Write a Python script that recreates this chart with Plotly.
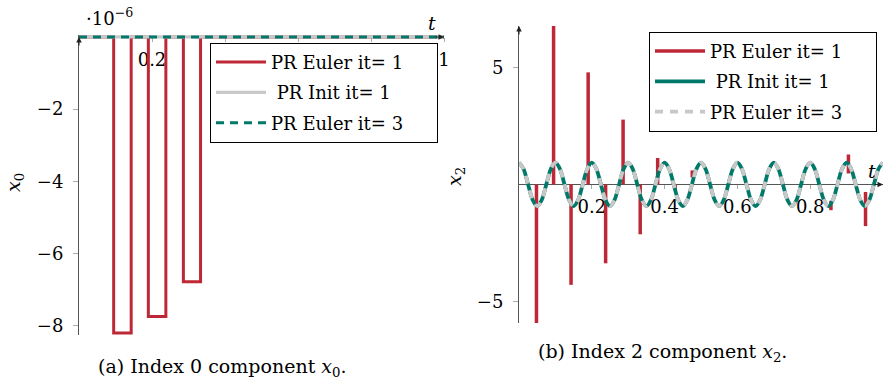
import plotly.graph_objects as go

# ---------------- data ----------------
# left panel: component x0 (units of 1e-6)
t_line = [0.0, 1.0]
x0_init = [0.0, 0.0]          # PR Init it= 1
x0_euler3 = [0.0, 0.0]        # PR Euler it= 3
bar_start = [0.095, 0.190, 0.286]   # PR Euler it= 1 rectangular dips
bar_end = [0.143, 0.238, 0.333]
bar_depth = [-8.2, -7.74, -6.78]

# right panel: component x2
spike_t = [0.048, 0.095, 0.143, 0.190, 0.238, 0.286, 0.333, 0.381, 0.429, 0.476, 0.857, 0.905, 0.952]
spike_lo = [-5.92, 0.0, -4.29, 0.0, -3.37, 0.0, -2.13, 0.0, -0.25, 0.30, -1.10, 0.47, -1.78]
spike_hi = [0.0, 6.77, 0.0, 4.79, 0.0, 2.77, 0.0, 1.13, 0.0, 0.60, -0.70, 1.28, -0.32]
wave_dt = 0.0125
x2_wave = [0.93, 0.66, 0.0, -0.66, -0.93, -0.66, 0.0, 0.66,
           0.93, 0.66, 0.0, -0.66, -0.93, -0.66, 0.0, 0.66,
           0.93, 0.66, 0.0, -0.66, -0.93, -0.66, 0.0, 0.66,
           0.93, 0.66, 0.0, -0.66, -0.93, -0.66, 0.0, 0.66,
           0.93, 0.66, 0.0, -0.66, -0.93, -0.66, 0.0, 0.66,
           0.93, 0.66, 0.0, -0.66, -0.93, -0.66, 0.0, 0.66,
           0.93, 0.66, 0.0, -0.66, -0.93, -0.66, 0.0, 0.66,
           0.93, 0.66, 0.0, -0.66, -0.93, -0.66, 0.0, 0.66,
           0.93, 0.66, 0.0, -0.66, -0.93, -0.66, 0.0, 0.66,
           0.93, 0.66, 0.0, -0.66, -0.93, -0.66, 0.0, 0.66,
           0.93]
t_wave = [i * wave_dt for i in range(len(x2_wave))]

x_tick_vals = [0.2, 0.4, 0.6, 0.8, 1.0]
left_x_tick_text = ["0.2", "", "", "", "1"]      # 0.4-0.8 hidden behind the legend
right_x_tick_text = ["0.2", "0.4", "0.6", "0.8", "1"]
left_y_ticks = [-8, -6, -4, -2]
right_y_ticks = [-5, 5]

# ---------------- style ----------------
RED = "#BE2836"
GREEN = "#00796A"
GRAY = "#C8C8C8"
AXIS = "#555555"
FONT = "DejaVu Serif"
W, H = 883, 383
PAD = "\u00a0" * 5   # legend cell padding (pgfplots legends are wider)

# build paths from data
lx, ly = [t_line[0]], [0.0]
for a, b, d in zip(bar_start, bar_end, bar_depth):
    lx += [a, a, b, b]
    ly += [0.0, d, d, 0.0]
lx.append(t_line[-1]); ly.append(0.0)

sx, sy = [], []
for t, lo, hi in zip(spike_t, spike_lo, spike_hi):
    sx += [t, t, None]
    sy += [lo, hi, None]

fig = go.Figure()
# left
fig.add_trace(go.Scatter(x=lx, y=ly, mode="lines", name="PR Euler it= 1" + PAD, legendgroup="a",
                         line=dict(color=RED, width=3), xaxis="x", yaxis="y", legend="legend"))
fig.add_trace(go.Scatter(x=t_line, y=x0_init, mode="lines", name="\u00a0PR Init it= 1", legendgroup="b",
                         line=dict(color=GRAY, width=3.2), xaxis="x", yaxis="y", legend="legend"))
fig.add_trace(go.Scatter(x=t_line, y=x0_euler3, mode="lines", name="PR Euler it= 3", legendgroup="c",
                         line=dict(color=GREEN, width=3, dash="8px,6px"), xaxis="x", yaxis="y", legend="legend"))
# right
fig.add_trace(go.Scatter(x=sx, y=sy, mode="lines", name="PR Euler it= 1" + PAD, legendgroup="d",
                         line=dict(color=RED, width=3.5), xaxis="x2", yaxis="y2", legend="legend2"))
fig.add_trace(go.Scatter(x=t_wave, y=x2_wave, mode="lines", name="\u00a0PR Init it= 1", line_shape="spline",
                         legendgroup="e",
                         line=dict(color=GREEN, width=3.8), xaxis="x2", yaxis="y2", legend="legend2"))
fig.add_trace(go.Scatter(x=t_wave, y=x2_wave, mode="lines", name="PR Euler it= 3", line_shape="spline",
                         legendgroup="f",
                         line=dict(color=GRAY, width=3.8, dash="8px,7px"), xaxis="x2", yaxis="y2", legend="legend2"))

L_XDOM = [79 / W, 444 / W]
L_YR = [-8.26, 0.06]
L_YDOM = [1 - 335.2 / H, 1 - 34.8 / H]
R_XDOM = [519 / W, 1.0]
R_YR = [-5.92, 6.77]
R_YDOM = [1 - 323 / H, 1 - 26 / H]


def zero_pos(dom, rng):
    return dom[0] + (0 - rng[0]) / (rng[1] - rng[0]) * (dom[1] - dom[0])


tickfont = dict(family=FONT, size=18, color="black")
common_x = dict(showgrid=False, zeroline=False, showline=True, linecolor=AXIS, linewidth=1,
                tickvals=x_tick_vals, ticks="outside", ticklen=4, automargin=False,
                tickcolor="#AAAAAA", tickfont=tickfont, range=[0, 1], anchor="free",
                layer="below traces", fixedrange=True, ticklabelstandoff=2)
common_y = dict(showgrid=False, zeroline=False, showline=True, linecolor=AXIS, linewidth=1,
                ticks="outside", ticklen=5, tickcolor="#AAAAAA", tickfont=tickfont, automargin=False,
                layer="below traces", fixedrange=True, ticklabelstandoff=6)

legend_common = dict(xanchor="left", yanchor="top", bgcolor="white", bordercolor="black",
                     borderwidth=1, font=dict(family=FONT, size=18), tracegroupgap=4,
                     itemwidth=50, traceorder="grouped")

fig.update_layout(
    width=W, height=H, autosize=False,
    margin=dict(l=0, r=0, t=0, b=0, autoexpand=False),
    paper_bgcolor="white", plot_bgcolor="white",
    font=dict(family=FONT, size=18, color="black"),
    xaxis=dict(common_x, domain=L_XDOM, position=zero_pos(L_YDOM, L_YR), ticktext=left_x_tick_text),
    yaxis=dict(common_y, domain=L_YDOM, range=L_YR, tickvals=left_y_ticks, anchor="x"),
    xaxis2=dict(common_x, domain=R_XDOM, position=zero_pos(R_YDOM, R_YR), ticktext=right_x_tick_text),
    yaxis2=dict(common_y, domain=R_YDOM, range=R_YR, tickvals=right_y_ticks, anchor="x2"),
    legend=dict(legend_common, x=210 / W, y=1 - 42.7 / H),
    legend2=dict(legend_common, x=649 / W, y=1 - 31.7 / H),
    showlegend=True,
)

ann = []
arrow = dict(text="", showarrow=True, arrowhead=2, arrowsize=1, arrowwidth=1.1, arrowcolor="#222")
# axis arrows
ann.append(dict(arrow, x=1, y=0, xref="x", yref="y", ax=-10, ay=0))
ann.append(dict(arrow, x=0, y=0, xref="x", yref="y", ax=0, ay=10))
ann.append(dict(arrow, x=1, y=0, xref="x2", yref="y2", ax=-10, ay=0))
ann.append(dict(arrow, x=0, y=R_YR[1], xref="x2", yref="y2", ax=0, ay=10))
lab = dict(showarrow=False, xanchor="center", yanchor="middle")
# t labels
ann.append(dict(lab, text="<i>t</i>", x=1, y=0, xref="x", yref="y",
                xshift=-12, yshift=14, font=dict(size=19)))
ann.append(dict(lab, text="<i>t</i>", x=1, y=0, xref="x2", yref="y2",
                xshift=-11, yshift=13, font=dict(size=19)))
# scale factor
ann.append(dict(lab, text="·10<sup>−6</sup>", x=84 / W, y=1 - 17 / H, xref="paper", yref="paper",
                xanchor="left", font=dict(size=18)))
# axis titles
ann.append(dict(lab, text="<i>x</i><sub>0</sub>", x=15 / W, y=1 - 182 / H, xref="paper", yref="paper",
                textangle=-90, font=dict(size=19)))
ann.append(dict(lab, text="<i>x</i><sub>2</sub>", x=455 / W, y=1 - 177 / H, xref="paper", yref="paper",
                textangle=-90, font=dict(size=19)))
# captions
ann.append(dict(lab, text="(a) Index 0 component <i>x</i><sub>0</sub>.", x=222 / W, y=1 - 367 / H,
                xref="paper", yref="paper", font=dict(size=19)))
ann.append(dict(lab, text="(b) Index 2 component <i>x</i><sub>2</sub>.", x=662 / W, y=1 - 352 / H,
                xref="paper", yref="paper", font=dict(size=19)))
fig.update_layout(annotations=ann)

fig.write_html("out.html", config={"displayModeBar": False},
               post_script="document.body.style.margin='0px';document.body.style.padding='0px';")
